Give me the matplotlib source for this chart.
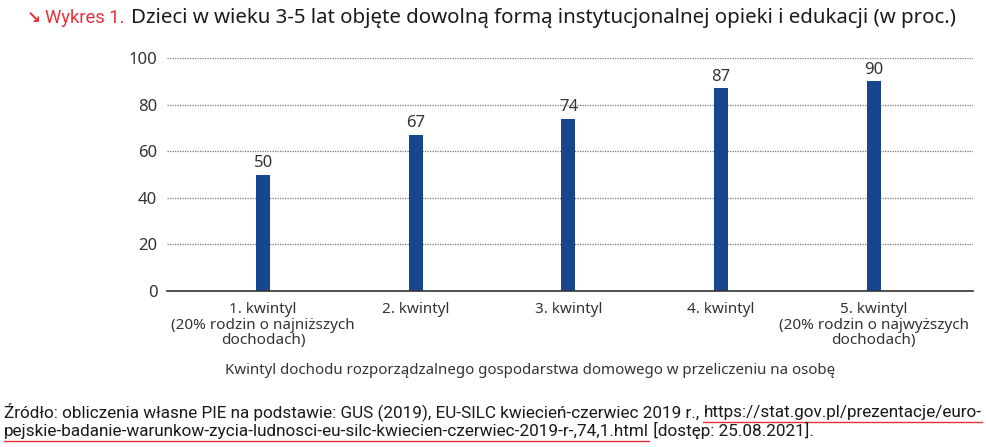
import matplotlib
matplotlib.use("Agg")
import matplotlib.pyplot as plt

categories = ["1. kwintyl\n(20% rodzin o najniższych\ndochodach)", "2. kwintyl", "3. kwintyl",
              "4. kwintyl", "5. kwintyl\n(20% rodzin o najwyższych\ndochodach)"]
values = [50, 67, 74, 87, 90]
yticks = [0, 20, 40, 60, 80, 100]

narrow = "Roboto"
base = "Noto Sans"

fig = plt.figure(figsize=(9.87, 4.47), dpi=100)
ax = fig.add_axes([167/987, 1-291/447, (973-167)/987, (291-58)/447])
x = list(range(len(values)))
ax.bar(x, values, width=0.092, color="#17468f", zorder=3)
for xi, v in zip(x, values):
    ax.text(xi, v + 1.5, str(v), ha="center", va="bottom", fontsize=12,
            color="#333333", family=base)
ax.set_xlim(-0.63, 4.65)
ax.set_ylim(0, 100)
ax.set_yticks(yticks)
ax.set_yticklabels([str(t) for t in yticks], fontsize=12, color="#333333", family=base)
ax.set_xticks(x)
ax.set_xticklabels(categories, fontsize=11, color="#333333", family=base, linespacing=1.05)
ax.tick_params(axis="both", length=0)
ax.tick_params(axis="y", pad=7)
ax.tick_params(axis="x", pad=8)
ax.grid(axis="y", linestyle=(0, (1, 1)), color="#777777", linewidth=0.9, zorder=0)
for s in ["top", "right", "left"]:
    ax.spines[s].set_visible(False)
ax.spines["bottom"].set_color("#333333")
ax.spines["bottom"].set_linewidth(1.2)
ax.spines["bottom"].set_zorder(4)
ax.set_xlabel("Kwintyl dochodu rozporządzalnego gospodarstwa domowego w przeliczeniu na osobę",
              fontsize=10.8, color="#333333", family=base)
ax.xaxis.set_label_coords((530-167)/806, -(370-291)/233, transform=ax.transAxes)
ax.xaxis.label.set_va("center")

fig.canvas.draw()
r = fig.canvas.get_renderer()

fig.text(27/987, 1-18/447, "↘", fontsize=12, color="#e8303a", va="center", family="DejaVu Sans", weight="bold")
fig.text(45/987, 1-18/447, "Wykres 1.", fontsize=13.2, color="#e8303a", va="center", family=narrow,
         weight="normal")
fig.text(131/987, 1-18/447, "Dzieci w wieku 3-5 lat objęte dowolną formą instytucjonalnej opieki i edukacji (w proc.)",
         fontsize=14.7, color="#1a1a1a", va="center", family=base, weight="medium")


def seq(parts, y, x0, fs):
    xp = x0
    for txt, ul in parts:
        t = fig.text(xp/987, y, txt, fontsize=fs, color="#1a1a1a", va="baseline", family=narrow)
        bb = t.get_window_extent(renderer=r)
        if ul:
            yy = (bb.y0 - 2) / 447
            fig.add_artist(plt.Line2D([bb.x0/987, bb.x1/987], [yy, yy], color="#e8303a", lw=1.0,
                                      transform=fig.transFigure))
        xp = bb.x1

fs = 12.3
seq([("Źródło: obliczenia własne PIE na podstawie: GUS (2019), EU-SILC kwiecień-czerwiec 2019 r., ", False),
     ("https://stat.gov.pl/prezentacje/euro-", True)], 1-417/447, 4, fs)
seq([("pejskie-badanie-warunkow-zycia-ludnosci-eu-silc-kwiecien-czerwiec-2019-r-,74,1.html", True),
     (" [dostęp: 25.08.2021].", False)], 1-436/447, 4, fs)

fig.savefig("out.png", dpi=100)
